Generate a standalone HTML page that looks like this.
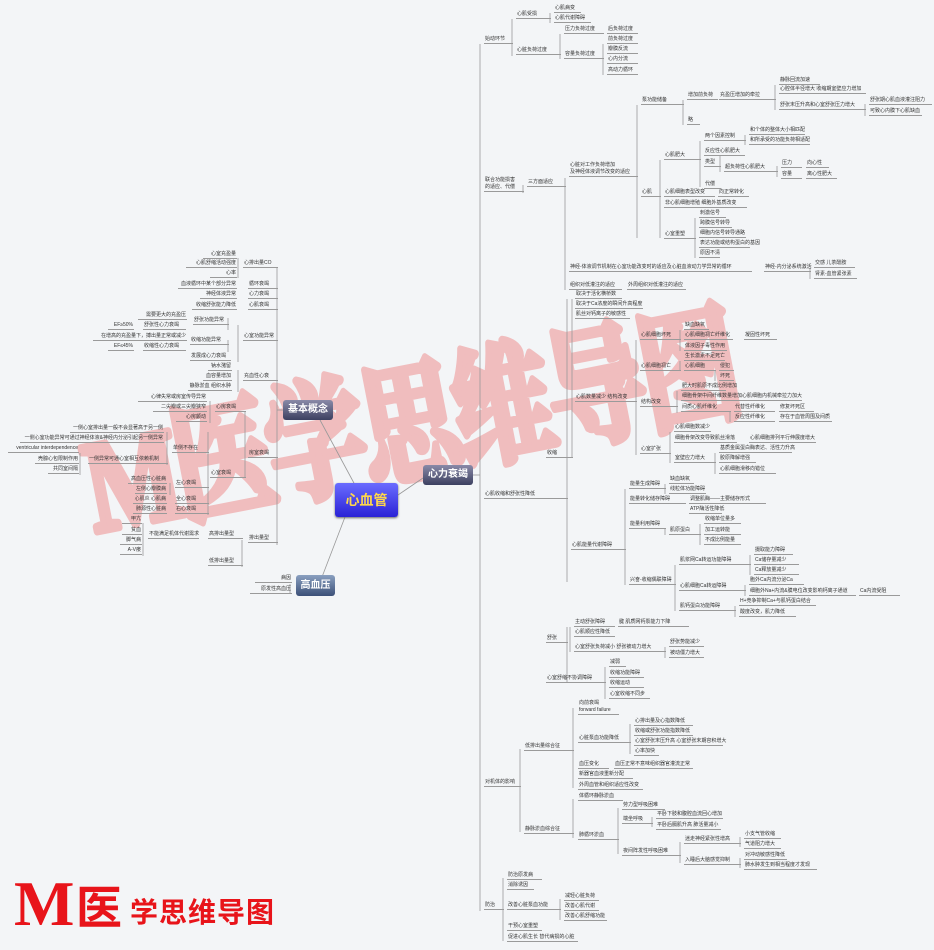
<!DOCTYPE html>
<html><head><meta charset="utf-8"><style>
html,body{margin:0;padding:0}
body{width:934px;height:950px;position:relative;overflow:hidden;background:#f3f5f7;font-family:"Liberation Sans","Noto Sans CJK SC",sans-serif}
i{position:absolute;font-style:normal;font-size:5px;line-height:7px;height:7px;white-space:nowrap;color:#333;border-bottom:1px solid #9a9a9a;padding-left:1px;overflow:visible}
.r{text-align:right;padding-right:1px}
.n{position:absolute;color:#fff;font-weight:bold;text-align:center;border-radius:3px;font-family:"Liberation Sans","Noto Sans CJK SC",sans-serif}
svg{position:absolute;left:0;top:0}
</style></head><body>
<svg width="934" height="950">
<g transform="rotate(-11 95 532) translate(95 532) scale(1 1.3)" opacity="0.55">
<text x="0" y="0" font-size="100" letter-spacing="-5" font-weight="bold" fill="#ef9090" stroke="#ef9090" stroke-width="6" stroke-linejoin="round" font-family="Liberation Serif,Noto Serif CJK SC,serif">M医学思维导图</text>
</g>
<g stroke="#999" stroke-width="0.8" fill="none">
<line x1="320" y1="420" x2="355" y2="485"/><line x1="398" y1="495" x2="423" y2="478"/><line x1="345" y1="517" x2="322" y2="577"/>
<line x1="473" y1="475" x2="480" y2="475"/><line x1="277" y1="410" x2="283" y2="410"/>
<line x1="277" y1="268" x2="277" y2="545"/>
<line x1="238" y1="258" x2="238" y2="278"/><line x1="238" y1="325" x2="238" y2="362"/><line x1="228" y1="318" x2="228" y2="330"/><line x1="228" y1="340" x2="228" y2="352"/>
<line x1="238" y1="370" x2="238" y2="392"/><line x1="210" y1="401" x2="210" y2="423"/><line x1="245" y1="412" x2="245" y2="478"/>
<line x1="208" y1="432" x2="208" y2="515"/><line x1="167" y1="432" x2="167" y2="465"/><line x1="80" y1="453" x2="80" y2="475"/>
<line x1="170" y1="483" x2="170" y2="495"/><line x1="143" y1="523" x2="143" y2="556"/><line x1="242" y1="540" x2="242" y2="567"/>
<line x1="290" y1="584" x2="290" y2="594"/>
<line x1="480" y1="44" x2="480" y2="911"/>
<line x1="512" y1="19" x2="512" y2="56"/><line x1="550" y1="13" x2="550" y2="23"/><line x1="560" y1="34" x2="560" y2="59"/><line x1="603" y1="44" x2="603" y2="75"/>
<line x1="523" y1="185" x2="523" y2="193"/><line x1="565" y1="178" x2="565" y2="290"/><line x1="637" y1="105" x2="637" y2="238"/>
<line x1="683" y1="100" x2="683" y2="125"/><line x1="775" y1="85" x2="775" y2="110"/><line x1="865" y1="104" x2="865" y2="116"/>
<line x1="660" y1="160" x2="660" y2="238"/><line x1="700" y1="141" x2="700" y2="187"/><line x1="745" y1="135" x2="745" y2="145"/><line x1="720" y1="156" x2="720" y2="172"/><line x1="777" y1="166" x2="777" y2="177"/>
<line x1="695" y1="218" x2="695" y2="258"/><line x1="810" y1="268" x2="810" y2="279"/>
<line x1="567" y1="299" x2="567" y2="582"/><line x1="572" y1="299" x2="572" y2="458"/>
<line x1="636" y1="340" x2="636" y2="455"/><line x1="680" y1="330" x2="680" y2="351"/><line x1="680" y1="361" x2="680" y2="371"/><line x1="715" y1="371" x2="715" y2="381"/>
<line x1="677" y1="391" x2="677" y2="413"/><line x1="730" y1="412" x2="730" y2="422"/><line x1="670" y1="432" x2="670" y2="463"/><line x1="715" y1="453" x2="715" y2="474"/>
<line x1="625" y1="489" x2="625" y2="585"/><line x1="665" y1="484" x2="665" y2="494"/><line x1="665" y1="529" x2="665" y2="535"/><line x1="700" y1="524" x2="700" y2="545"/>
<line x1="675" y1="565" x2="675" y2="611"/><line x1="750" y1="555" x2="750" y2="575"/><line x1="745" y1="585" x2="745" y2="596"/><line x1="735" y1="606" x2="735" y2="617"/>
<line x1="567" y1="627" x2="567" y2="683"/><line x1="570" y1="627" x2="570" y2="652"/><line x1="665" y1="647" x2="665" y2="658"/><line x1="605" y1="667" x2="605" y2="699"/>
<line x1="520" y1="749" x2="520" y2="832"/><line x1="573" y1="708" x2="573" y2="788"/><line x1="630" y1="724" x2="630" y2="754"/>
<line x1="573" y1="799" x2="573" y2="838"/><line x1="618" y1="808" x2="618" y2="854"/><line x1="652" y1="817" x2="652" y2="827"/><line x1="680" y1="842" x2="680" y2="863"/><line x1="740" y1="837" x2="740" y2="847"/><line x1="740" y1="858" x2="740" y2="868"/>
<line x1="503" y1="878" x2="503" y2="941"/><line x1="560" y1="899" x2="560" y2="920"/>
</g>
</svg>

<div class="n" style="left:335px;top:483px;width:63px;height:34px;line-height:34px;font-size:14px;color:#ffd84a;background:linear-gradient(#6a6cff,#2a22d6);box-shadow:0 1px 2px #666">心血管</div>
<div class="n" style="left:283px;top:400px;width:50px;height:20px;line-height:20px;font-size:10px;background:linear-gradient(#8a8aa8,#3c4060)">基本概念</div>
<div class="n" style="left:423px;top:465px;width:50px;height:20px;line-height:20px;font-size:10px;background:linear-gradient(#8a8aa8,#3c4060)">心力衰竭</div>
<div class="n" style="left:296px;top:575px;width:39px;height:21px;line-height:21px;font-size:10px;background:linear-gradient(#8aa0c0,#3c5078)">高血压</div>

<!-- left -->
<i class="r" style="left:203px;top:251px;width:32px">心室充盈量</i>
<i class="r" style="left:186px;top:260px;width:49px">心肌舒缩活动强度</i><i style="left:243px;top:260px;width:34px">心排出量CO</i>
<i class="r" style="left:210px;top:270px;width:25px">心率</i>
<i class="r" style="left:178px;top:281px;width:57px">血液循环中某个部分异常</i><i style="left:248px;top:281px;width:29px">循环衰竭</i>
<i class="r" style="left:200px;top:291px;width:35px">神经体液异常</i><i style="left:248px;top:291px;width:29px">心力衰竭</i>
<i class="r" style="left:192px;top:302px;width:43px">收缩舒张能力降低</i><i style="left:248px;top:302px;width:29px">心肌衰竭</i>
<i class="r" style="left:138px;top:312px;width:47px">需要更大的充盈压</i><i style="left:193px;top:317px;width:35px">舒张功能异常</i>
<i class="r" style="left:108px;top:322px;width:24px">EF≥50%</i><i style="left:143px;top:322px;width:42px">舒张性心力衰竭</i>
<i style="left:243px;top:333px;width:34px">心室功能异常</i>
<i class="r" style="left:93px;top:333px;width:92px">在增高的充盈量下，搏出量正常或减少</i><i style="left:190px;top:337px;width:38px">收缩功能异常</i>
<i class="r" style="left:108px;top:343px;width:24px">EF≤45%</i><i style="left:143px;top:343px;width:42px">收缩性心力衰竭</i>
<i style="left:190px;top:353px;width:40px">发展成心力衰竭</i>
<i class="r" style="left:208px;top:363px;width:22px">钠水潴留</i>
<i class="r" style="left:203px;top:373px;width:27px">血容量增加</i><i style="left:243px;top:373px;width:34px">充血性心衰</i>
<i class="r" style="left:188px;top:383px;width:42px">静脉淤血 组织水肿</i>
<i class="r" style="left:138px;top:394px;width:67px">心律失常或房室传导异常</i><i style="left:215px;top:404px;width:30px">心房衰竭</i>
<i class="r" style="left:153px;top:404px;width:52px">二尖瓣或三尖瓣狭窄</i>
<i class="r" style="left:176px;top:414px;width:29px">心房颤动</i>
<i class="r" style="left:70px;top:425px;width:92px">一侧心室排出量一般不会显著高于另一侧</i><i style="left:248px;top:450px;width:29px">房室衰竭</i>
<i class="r" style="left:20px;top:435px;width:142px">一侧心室功能异常可通过神经体液&amp;神经内分泌引起另一侧异常</i><i style="left:172px;top:445px;width:36px">单侧不存在</i>
<i class="r" style="left:8px;top:445px;width:69px">ventricular interdependence</i>
<i class="r" style="left:35px;top:456px;width:42px">壳腺心包限制作用</i><i style="left:88px;top:456px;width:79px">一侧异常可通心室相互依赖机制</i>
<i class="r" style="left:48px;top:466px;width:29px">共同室间隔</i><i style="left:210px;top:470px;width:35px">心室衰竭</i>
<i class="r" style="left:128px;top:476px;width:37px">高血压性心脏病</i><i style="left:175px;top:480px;width:33px">左心衰竭</i>
<i class="r" style="left:135px;top:486px;width:30px">左侧心瓣膜病</i>
<i class="r" style="left:133px;top:496px;width:32px">心肌炎 心肌病</i><i style="left:175px;top:496px;width:33px">全心衰竭</i>
<i class="r" style="left:133px;top:506px;width:32px">肺源性心脏病</i><i style="left:175px;top:506px;width:33px">右心衰竭</i>
<i class="r" style="left:122px;top:516px;width:18px">甲亢</i>
<i class="r" style="left:122px;top:527px;width:18px">贫血</i><i style="left:148px;top:531px;width:50px">不能满足机体代谢需求</i><i style="left:208px;top:531px;width:34px">高排出量型</i><i style="left:248px;top:535px;width:29px">排出量型</i>
<i class="r" style="left:120px;top:537px;width:20px">脚气病</i>
<i class="r" style="left:120px;top:547px;width:20px">A-V瘘</i>
<i style="left:208px;top:558px;width:34px">低排出量型</i>
<i class="r" style="left:255px;top:575px;width:35px">病因</i>
<i class="r" style="left:250px;top:586px;width:40px">原发性高血压</i>

<!-- right top -->
<i style="left:484px;top:36px;width:28px">始动环节</i>
<i style="left:516px;top:11px;width:34px">心肌受损</i><i style="left:554px;top:5px;width:26px">心肌病变</i><i style="left:554px;top:15px;width:36px">心肌代谢障碍</i>
<i style="left:516px;top:47px;width:44px">心脏负荷过度</i>
<i style="left:564px;top:26px;width:39px">压力负荷过度</i><i style="left:607px;top:26px;width:30px">后负荷过度</i>
<i style="left:564px;top:51px;width:39px">容量负荷过度</i><i style="left:607px;top:36px;width:30px">前负荷过度</i><i style="left:607px;top:46px;width:30px">瓣膜反流</i><i style="left:607px;top:56px;width:30px">心内分流</i><i style="left:607px;top:67px;width:30px">高动力循环</i>
<i style="left:484px;top:177px;width:39px;border:0">联合功能损害</i><i style="left:484px;top:184px;width:39px">的适应、代偿</i>
<i style="left:527px;top:179px;width:38px">三方面适应</i>
<i style="left:569px;top:162px;width:68px;border:0">心脏对工作负荷增加</i><i style="left:569px;top:169px;width:68px">及神经体液调节改变的适应</i>
<i style="left:641px;top:97px;width:42px">泵功能储备</i><i style="left:687px;top:92px;width:30px">增加前负荷</i><i style="left:719px;top:92px;width:56px">充盈压增加的牵拉</i>
<i style="left:779px;top:77px;width:40px">静脉回流加速</i><i style="left:779px;top:86px;width:86px">心腔体半径增大 收缩期室壁应力增加</i><i style="left:779px;top:102px;width:86px">舒张末压升高和心室舒张压力增大</i>
<i style="left:869px;top:97px;width:62px">舒张期心肌血液灌注阻力</i><i style="left:869px;top:108px;width:52px">可致心内膜下心肌缺血</i>
<i style="left:687px;top:117px;width:12px">略</i>
<i style="left:641px;top:189px;width:19px">心肌</i>
<i style="left:664px;top:152px;width:36px">心肌肥大</i>
<i style="left:704px;top:133px;width:41px">两个因素控制</i><i style="left:749px;top:127px;width:55px">和个体的整体大小相匹配</i><i style="left:749px;top:137px;width:60px">和所承受的功能负荷相适配</i>
<i style="left:704px;top:148px;width:40px">反应性心肌肥大</i><i style="left:704px;top:159px;width:16px">类型</i><i style="left:724px;top:164px;width:53px">超负荷性心肌肥大</i>
<i style="left:781px;top:160px;width:20px">压力</i><i style="left:806px;top:160px;width:22px">向心性</i><i style="left:781px;top:171px;width:20px">容量</i><i style="left:806px;top:171px;width:30px">离心性肥大</i>
<i style="left:704px;top:181px;width:16px">代偿</i>
<i style="left:664px;top:189px;width:50px">心肌细胞表型改变</i><i style="left:718px;top:189px;width:30px">向正常转化</i>
<i style="left:664px;top:200px;width:82px">非心肌细胞增殖 细胞外基质改变</i>
<i style="left:664px;top:231px;width:31px">心室重塑</i>
<i style="left:699px;top:210px;width:26px">刺激信号</i><i style="left:699px;top:220px;width:32px">跨膜信号转导</i><i style="left:699px;top:230px;width:46px">细胞内信号转导通路</i><i style="left:699px;top:240px;width:50px">表达功能或结构蛋白的基因</i><i style="left:699px;top:250px;width:20px">原因不清</i>
<i style="left:569px;top:264px;width:182px">神经-体液调节机制在心室功能改变时的适应及心脏血液动力学异常的循环</i><i style="left:764px;top:264px;width:46px">神经-内分泌系统激活</i>
<i style="left:814px;top:260px;width:40px">交感 儿茶酚胺</i><i style="left:814px;top:271px;width:42px">肾素-血管紧张素</i>
<i style="left:569px;top:282px;width:52px">组织对低灌注的适应</i><i style="left:627px;top:282px;width:58px">外周组织对低灌注的适应</i>

<!-- right middle -->
<i style="left:484px;top:491px;width:83px">心肌收缩和舒张性降低</i>
<i style="left:546px;top:450px;width:26px">收缩</i>
<i style="left:575px;top:291px;width:46px">取决于活化横桥数</i><i style="left:575px;top:301px;width:67px">取决于Ca浓度的瞬间升高程度</i><i style="left:575px;top:311px;width:54px">肌丝对钙离子的敏感性</i>
<i style="left:575px;top:394px;width:61px">心肌数量减少 结构改变</i>
<i style="left:640px;top:332px;width:40px">心肌细胞坏死</i><i style="left:684px;top:322px;width:24px">缺血缺氧</i><i style="left:684px;top:332px;width:48px">心肌细胞凋亡纤维化</i><i style="left:744px;top:332px;width:32px">凝固性坏死</i><i style="left:684px;top:343px;width:42px">体液因子毒性作用</i>
<i style="left:640px;top:363px;width:40px">心肌细胞凋亡</i><i style="left:684px;top:353px;width:40px">生长激素不足死亡</i><i style="left:684px;top:363px;width:31px">心肌细胞</i><i style="left:719px;top:363px;width:14px">侵犯</i><i style="left:719px;top:373px;width:14px">坏死</i>
<i style="left:640px;top:399px;width:37px">结构改变</i><i style="left:681px;top:383px;width:44px">肥大时肌原不成比例增加</i><i style="left:681px;top:393px;width:120px">细胞骨架中间纤维数量增加心肌细胞内机械牵拉力加大</i>
<i style="left:681px;top:404px;width:49px">间质心肌纤维化</i><i style="left:734px;top:404px;width:40px">代替性纤维化</i><i style="left:779px;top:404px;width:34px">修复坏死区</i><i style="left:734px;top:414px;width:40px">反应性纤维化</i><i style="left:779px;top:414px;width:52px">存在于血管周围及间质</i>
<i style="left:640px;top:446px;width:30px">心室扩张</i><i style="left:674px;top:424px;width:36px">心肌细胞数减少</i><i style="left:674px;top:435px;width:62px">细胞骨架改变导致肌丝滑落</i><i style="left:749px;top:435px;width:66px">心肌细胞排列平行伸展度增大</i>
<i style="left:674px;top:455px;width:41px">室壁应力增大</i><i style="left:719px;top:445px;width:72px">基质金属蛋白酶表达、活性力升高</i><i style="left:719px;top:455px;width:36px">胶原降解增强</i><i style="left:719px;top:466px;width:56px">心肌细胞滑移向错位</i>
<i style="left:571px;top:542px;width:54px">心肌能量代谢障碍</i>
<i style="left:629px;top:481px;width:36px">能量生成障碍</i><i style="left:669px;top:476px;width:24px">缺血缺氧</i><i style="left:669px;top:486px;width:36px">线粒体功能障碍</i>
<i style="left:629px;top:496px;width:56px">能量转化储存障碍</i><i style="left:689px;top:496px;width:76px">调整肌酶——主要储存形式</i><i style="left:689px;top:506px;width:32px">ATP酶活性降低</i>
<i style="left:629px;top:521px;width:36px">能量利用障碍</i><i style="left:669px;top:527px;width:31px">肌原蛋白</i><i style="left:704px;top:516px;width:36px">收缩单位量多</i><i style="left:704px;top:527px;width:36px">加工运转能</i><i style="left:704px;top:537px;width:36px">不成比例能量</i>
<i style="left:629px;top:577px;width:46px">兴奋-收缩偶联障碍</i>
<i style="left:679px;top:557px;width:71px">肌浆网Ca转运功能障碍</i><i style="left:754px;top:547px;width:38px">摄取能力障碍</i><i style="left:754px;top:557px;width:44px">Ca储存量减少</i><i style="left:754px;top:567px;width:44px">Ca释放量减少</i>
<i style="left:679px;top:583px;width:66px">心肌细胞Ca转运障碍</i><i style="left:749px;top:577px;width:54px">胞外Ca内流分泌Ca</i><i style="left:749px;top:588px;width:106px">细胞外Na+内流&amp;膜电位改变影响钙离子通道</i><i style="left:859px;top:588px;width:40px">Ca内流受阻</i>
<i style="left:679px;top:603px;width:56px">肌钙蛋白功能障碍</i><i style="left:739px;top:598px;width:76px">H+竞争抑制Ca+与肌钙蛋白结合</i><i style="left:739px;top:609px;width:56px">酸度改变，肌力降低</i>
<i style="left:546px;top:635px;width:21px">舒张</i>
<i style="left:574px;top:619px;width:40px">主动舒张障碍</i><i style="left:618px;top:619px;width:70px">腱 肌质网钙泵能力下降</i>
<i style="left:574px;top:629px;width:40px">心肌顺应性降低</i>
<i style="left:574px;top:644px;width:91px">心室舒张负荷减小 舒张被动力增大</i><i style="left:669px;top:639px;width:34px">舒张势能减少</i><i style="left:669px;top:650px;width:34px">被动僵力增大</i>
<i style="left:546px;top:675px;width:59px">心室舒缩不协调障碍</i>
<i style="left:609px;top:659px;width:16px">减弱</i><i style="left:609px;top:670px;width:34px">收缩功能障碍</i><i style="left:609px;top:680px;width:34px">收缩运动</i><i style="left:609px;top:691px;width:40px">心室收缩不同步</i>

<!-- right bottom -->
<i style="left:484px;top:779px;width:36px">对机体的影响</i>
<i style="left:524px;top:743px;width:49px">低排出量综合征</i>
<i style="left:578px;top:700px;width:36px;border:0">向前衰竭</i><i style="left:578px;top:707px;width:40px">forward failure</i>
<i style="left:578px;top:735px;width:52px">心脏泵血功能降低</i>
<i style="left:634px;top:718px;width:58px">心排出量及心指数降低</i><i style="left:634px;top:728px;width:58px">收缩或舒张功能指数降低</i><i style="left:634px;top:738px;width:88px">心室舒张末压升高 心室舒张末期容积增大</i><i style="left:634px;top:748px;width:24px">心率加快</i>
<i style="left:578px;top:761px;width:30px">血压变化</i><i style="left:614px;top:761px;width:78px">血压正常不意味组织器官灌流正常</i>
<i style="left:578px;top:771px;width:54px">新器官血液重新分配</i><i style="left:578px;top:782px;width:64px">外周血管和组织适应性改变</i>
<i style="left:524px;top:826px;width:49px">静脉淤血综合征</i>
<i style="left:578px;top:793px;width:44px">体循环静脉淤血</i>
<i style="left:578px;top:832px;width:40px">肺循环淤血</i>
<i style="left:622px;top:802px;width:42px">劳力型呼吸困难</i><i style="left:622px;top:816px;width:30px">端坐呼吸</i>
<i style="left:656px;top:811px;width:66px">平卧下肢和腹腔血流回心增加</i><i style="left:656px;top:822px;width:64px">平卧后膈肌升高 肺活量减小</i>
<i style="left:622px;top:848px;width:58px">夜间阵发性呼吸困难</i>
<i style="left:684px;top:836px;width:56px">迷走神经紧张性增高</i><i style="left:744px;top:831px;width:36px">小支气管收缩</i><i style="left:744px;top:841px;width:36px">气道阻力增大</i>
<i style="left:684px;top:857px;width:56px">入睡后大脑感觉抑制</i><i style="left:744px;top:852px;width:42px">对冲动敏感性降低</i><i style="left:744px;top:862px;width:72px">肺水肿发生到相当程度才发现</i>
<i style="left:484px;top:902px;width:19px">防治</i>
<i style="left:507px;top:872px;width:34px">防治原发病</i><i style="left:507px;top:882px;width:26px">消除诱因</i>
<i style="left:507px;top:902px;width:53px">改善心脏泵血功能</i><i style="left:564px;top:893px;width:34px">减轻心脏负荷</i><i style="left:564px;top:903px;width:34px">改善心肌代谢</i><i style="left:564px;top:913px;width:42px">改善心肌舒缩功能</i>
<i style="left:507px;top:923px;width:34px">干预心室重塑</i><i style="left:507px;top:934px;width:70px">促进心肌生长 替代病损的心脏</i>

<!-- logo -->
<div style="position:absolute;left:14px;top:874px;font:bold 64px/60px 'Liberation Serif',serif;color:#e8141a;letter-spacing:-4px">M</div>
<div style="position:absolute;left:76px;top:880px;font:bold 46px/50px 'Noto Sans CJK SC',sans-serif;color:#e8141a">医</div>
<div style="position:absolute;left:130px;top:893px;font:bold 28px/36px 'Noto Sans CJK SC',sans-serif;color:#e8141a;letter-spacing:1px">学思维导图</div>
</body></html>
